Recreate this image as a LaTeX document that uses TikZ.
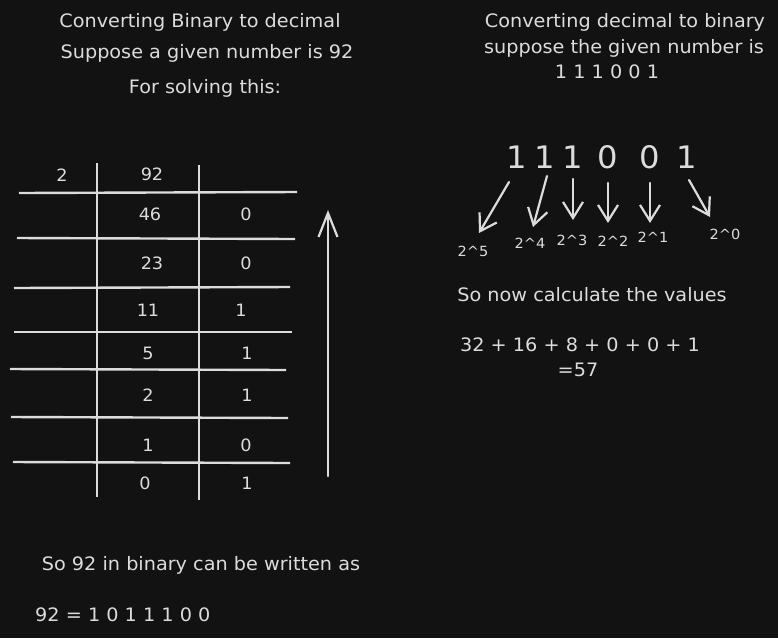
\documentclass[tikz,border=0pt]{standalone}
\usepackage{fontspec}
\setmainfont{DejaVu Sans}[FakeStretch=1.04]
\usetikzlibrary{arrows.meta}
\definecolor{bg}{HTML}{121212}
\definecolor{ink}{HTML}{DCDCDC}
\begin{document}
\begin{tikzpicture}[x=1pt,y=-1pt,
  txt/.style={text=ink,inner sep=0pt,anchor=center,font=\fontsize{18.5}{22}\selectfont},
  cell/.style={txt,font=\fontsize{17}{20}\selectfont},
  big/.style={txt,font=\fontsize{31}{34}\selectfont},
  pow/.style={txt,font=\fontsize{14}{16}\selectfont},
  rule/.style={draw=ink,line width=2.4pt},
  arr/.style={draw=ink,line width=2.2pt,line cap=round,-{Straight Barb[length=16pt,width=20pt,line width=2.2pt]}},
  uparr/.style={draw=ink,line width=2.2pt,line cap=round,-{Straight Barb[length=24pt,width=19pt,line width=2.2pt]}}
]
\fill[bg] (0,0) rectangle (778,638);
\useasboundingbox (0,0) rectangle (778,638);

% left headings
\node[txt] (h1) at (200,22) {Converting Binary to decimal};
\node[txt] (h2) at (207,53) {Suppose a given number is 92};
\node[txt] (h3) at (205,88) {For solving this:};

% right headings
\node[txt] (r1) at (625,22) {Converting decimal to binary};
\node[txt] (r2) at (624,48) {suppose the given number is};
\node[txt] (r3) at (607,72) {1 1 1 0 0 1};

% table lines
\draw[rule] (97,163) -- (97,497);
\draw[rule] (199,165) -- (199,500);
\draw[rule] (19,193) -- (297,192);
\draw[rule] (17,238) -- (295,239);
\draw[rule] (14,288) -- (290,287);
\draw[rule] (14,332) -- (292,332);
\draw[rule] (10,369) -- (286,370);
\draw[rule] (11,417) -- (288,418);
\draw[rule] (13,462) -- (290,463);

% table cells
\node[cell] (d) at (62,175) {2};
\node[cell] (q0) at (152,174) {92};
\node[cell] (q1) at (150,214) {46};  \node[cell] (m1) at (246,214) {0};
\node[cell] (q2) at (152,263) {23};  \node[cell] (m2) at (246,263) {0};
\node[cell] (q3) at (148,310) {11};  \node[cell] (m3) at (241,310) {1};
\node[cell] (q4) at (148,353) {5};   \node[cell] (m4) at (247,353) {1};
\node[cell] (q5) at (148,395) {2};   \node[cell] (m5) at (247,395) {1};
\node[cell] (q6) at (148,445) {1};   \node[cell] (m6) at (246,445) {0};
\node[cell] (q7) at (145,483) {0};   \node[cell] (m7) at (247,483) {1};

% up arrow
\coordinate (ub) at (328,476);
\coordinate (ut) at (328,210);
\draw[uparr] (ub) -- (ut);

% big digits
\node[big] (b5) at (517,157) {1};
\node[big] (b4) at (545,157) {1};
\node[big] (b3) at (573,157) {1};
\node[big] (b2) at (608,157) {0};
\node[big] (b1) at (650,157) {0};
\node[big] (b0) at (687,157) {1};

% arrow starts and ends
\coordinate (s5) at (509,182); \coordinate (e5) at (479,233);
\coordinate (s4) at (547,176); \coordinate (e4) at (533,227);
\coordinate (s3) at (573,179); \coordinate (e3) at (573,220);
\coordinate (s2) at (608,183); \coordinate (e2) at (608,223);
\coordinate (s1) at (650,183); \coordinate (e1) at (650,223);
\coordinate (s0) at (689,180); \coordinate (e0) at (710,217);
\foreach \i in {0,...,5} { \draw[arr] (s\i) -- (e\i); }

% powers
\node[pow] (p5) at (473,251) {2\^{}5};
\node[pow] (p4) at (530,243) {2\^{}4};
\node[pow] (p3) at (572,240) {2\^{}3};
\node[pow] (p2) at (613,241) {2\^{}2};
\node[pow] (p1) at (653,237) {2\^{}1};
\node[pow] (p0) at (725,234) {2\^{}0};

% calculation
\node[txt] (c1) at (592,295) {So now calculate the values};
\node[txt] (c2) at (580,345) {32 + 16 + 8 + 0 + 0 + 1};
\node[txt] (c3) at (578,370) {=57};

% bottom
\node[txt] (f1) at (201,565) {So 92 in binary can be written as};
\node[txt,anchor=west] (f2) at (35,615) {92 = 1 0 1 1 1 0 0};
\end{tikzpicture}
\end{document}
